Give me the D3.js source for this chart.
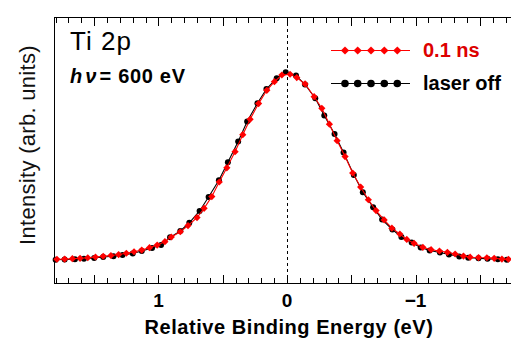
<!DOCTYPE html>
<html><head><meta charset="utf-8">
<script src="https://cdn.jsdelivr.net/npm/d3@7/dist/d3.min.js"></script>
<style>
html,body{margin:0;padding:0;background:#fff;}
svg{display:block;font-family:"Liberation Sans",Arial,Helvetica,sans-serif;}
</style></head>
<body>
<svg id="chart" width="511" height="338"></svg>
<script>
// ---- data (binding energy in eV, normalized intensity) ----
const redEnergy = [1.79,1.73,1.67,1.61,1.55,1.49,1.43,1.37,1.31,1.25,1.19,1.13,1.07,1.01,0.95,0.90,0.83,0.77,0.70,0.645,0.585,0.527,0.468,0.404,0.344,0.287,0.221,0.157,0.098,0.040,-0.024,-0.076,-0.141,-0.211,-0.271,-0.330,-0.390,-0.452,-0.511,-0.573,-0.633,-0.693,-0.756,-0.816,-0.878,-0.932,-0.989,-1.057,-1.121,-1.186,-1.248,-1.308,-1.373,-1.425,-1.490,-1.555,-1.612,-1.672,-1.723];
const redIntensity = [0.004,0.005,0.007,0.009,0.012,0.016,0.020,0.024,0.029,0.036,0.044,0.053,0.066,0.080,0.098,0.123,0.151,0.184,0.227,0.276,0.339,0.417,0.493,0.579,0.670,0.752,0.836,0.907,0.953,0.989,0.993,0.975,0.941,0.873,0.811,0.726,0.638,0.553,0.465,0.390,0.322,0.264,0.214,0.170,0.139,0.110,0.089,0.068,0.055,0.048,0.041,0.032,0.021,0.015,0.013,0.012,0.009,0.005,0.004];
const blackEnergy = [1.80,1.73,1.65,1.58,1.50,1.43,1.35,1.28,1.20,1.13,1.05,0.98,0.91,0.83,0.76,0.68,0.61,0.53,0.46,0.38,0.31,0.23,0.16,0.08,0.01,-0.07,-0.14,-0.22,-0.29,-0.37,-0.44,-0.52,-0.59,-0.67,-0.74,-0.82,-0.89,-0.97,-1.04,-1.11,-1.19,-1.26,-1.34,-1.41,-1.49,-1.56,-1.64,-1.71];
const blackIntensity = [0.001,0.003,0.004,0.007,0.011,0.016,0.020,0.027,0.035,0.048,0.064,0.080,0.121,0.155,0.199,0.262,0.337,0.426,0.522,0.633,0.740,0.838,0.914,0.972,1.004,0.986,0.938,0.865,0.772,0.674,0.575,0.455,0.362,0.282,0.216,0.163,0.123,0.094,0.067,0.051,0.040,0.029,0.019,0.012,0.009,0.006,0.004,0.001];
const xTickLabels = [1, 0, -1];
const seriesNames = ["0.1 ns", "laser off"];
const titleText = "Ti 2p";

// ---- layout ----
const L = 55, R = 511, T = 17, B = 283;
const svg = d3.select("#chart");
const x = d3.scaleLinear().domain([1.805, -1.735]).range([L, 510]);
const y = d3.scaleLinear().domain([-0.123, 1.299]).range([B, T]);

const red = "#ff0000", redText = "#dd0000";

// frame
svg.append("line").attr("x1",L).attr("x2",R).attr("y1",T+0.5).attr("y2",T+0.5).attr("stroke","#000").attr("stroke-width",1);
svg.append("line").attr("x1",L).attr("x2",R).attr("y1",B+0.5).attr("y2",B+0.5).attr("stroke","#000").attr("stroke-width",1);
svg.append("line").attr("x1",L-0.5).attr("x2",L-0.5).attr("y1",T).attr("y2",B+1).attr("stroke","#000").attr("stroke-width",1);

// ticks (inward) every 0.1, major every 0.5
const minorTicks = d3.range(-17, 19).map(d => d / 10);
const isMajor = v => Math.abs(v*2 - Math.round(v*2)) < 1e-6;
minorTicks.forEach(v => {
  const px = Math.round(x(v)) + 0.5;
  const len = isMajor(v) ? 9 : 6;
  svg.append("line").attr("x1",px).attr("x2",px).attr("y1",T).attr("y2",T+len).attr("stroke","#000");
  svg.append("line").attr("x1",px).attr("x2",px).attr("y1",B+1).attr("y2",B+1-len).attr("stroke","#000");
});

// tick labels
xTickLabels.forEach(v => {
  svg.append("text").attr("x", x(v)).attr("y", 306.5).attr("text-anchor","middle")
    .attr("font-size",19).attr("font-weight","bold").text(v < 0 ? "\u2212" + Math.abs(v) : String(v));
});

// zero dashed line
svg.append("line").attr("x1",Math.round(x(0))+0.5).attr("x2",Math.round(x(0))+0.5).attr("y1",T).attr("y2",B)
  .attr("stroke","#000").attr("stroke-dasharray","3,3").attr("stroke-width",1);

// axis titles
svg.append("text").attr("x", 289).attr("y", 334).attr("text-anchor","middle")
  .attr("font-size",20).attr("letter-spacing",0.55).attr("font-weight","bold").text("Relative Binding Energy (eV)");
svg.append("text").attr("transform","translate(35,145) rotate(-90)").attr("text-anchor","middle")
  .attr("font-size",22).attr("letter-spacing",0.3).attr("fill","#111").text("Intensity (arb. units)");

// title
svg.append("text").attr("x",70).attr("y",50).attr("font-size",26).attr("letter-spacing",1).text(titleText);
const hv = svg.append("text").attr("x",70).attr("y",83).attr("font-size",20).attr("letter-spacing",0.7).attr("font-weight","bold");
hv.append("tspan").attr("font-style","italic").text("h\u200A\u03BD");
hv.append("tspan").text("\u200A= 600 eV");

// series
const blackData = blackEnergy.map((e,i)=>[e, blackIntensity[i]]);
const redData = redEnergy.map((e,i)=>[e, redIntensity[i]]);
const line = d3.line().x(d=>x(d[0])).y(d=>y(d[1]));
const diamond = d3.symbol().type(d3.symbolSquare).size(26);

const plot = svg.append("g");
plot.append("path").datum(blackData).attr("d",line).attr("fill","none").attr("stroke","#000").attr("stroke-width",1.1);
plot.selectAll(".bc").data(blackData).enter().append("circle")
  .attr("cx",d=>x(d[0])).attr("cy",d=>y(d[1])).attr("r",3).attr("fill","#000");
plot.append("path").datum(redData).attr("d",line).attr("fill","none").attr("stroke",red).attr("stroke-width",1.1);
plot.selectAll(".rd").data(redData).enter().append("path")
  .attr("d",diamond).attr("transform",d=>`translate(${x(d[0])},${y(d[1])}) rotate(45)`).attr("fill",red);

// legend
const legY = [50.5, 83.5];
const legMarkX = [345, 357.7, 371, 384.3, 397.3];
svg.append("line").attr("x1",331).attr("x2",410).attr("y1",legY[0]).attr("y2",legY[0]).attr("stroke",red).attr("stroke-width",1.2);
legMarkX.forEach(mx => svg.append("path").attr("d",d3.symbol().type(d3.symbolSquare).size(34)()).attr("transform",`translate(${mx},${legY[0]}) rotate(45)`).attr("fill",red));
svg.append("text").attr("x",423).attr("y",56.5).attr("font-size",20).attr("font-weight","bold").attr("fill",redText).text(seriesNames[0]);
svg.append("line").attr("x1",331).attr("x2",410).attr("y1",legY[1]).attr("y2",legY[1]).attr("stroke","#000").attr("stroke-width",1.2);
legMarkX.forEach(mx => svg.append("circle").attr("cx",mx).attr("cy",legY[1]).attr("r",3.8).attr("fill","#000"));
svg.append("text").attr("x",423).attr("y",89.5).attr("font-size",20).attr("font-weight","bold").attr("fill","#000").text(seriesNames[1]);
</script>
</body></html>
